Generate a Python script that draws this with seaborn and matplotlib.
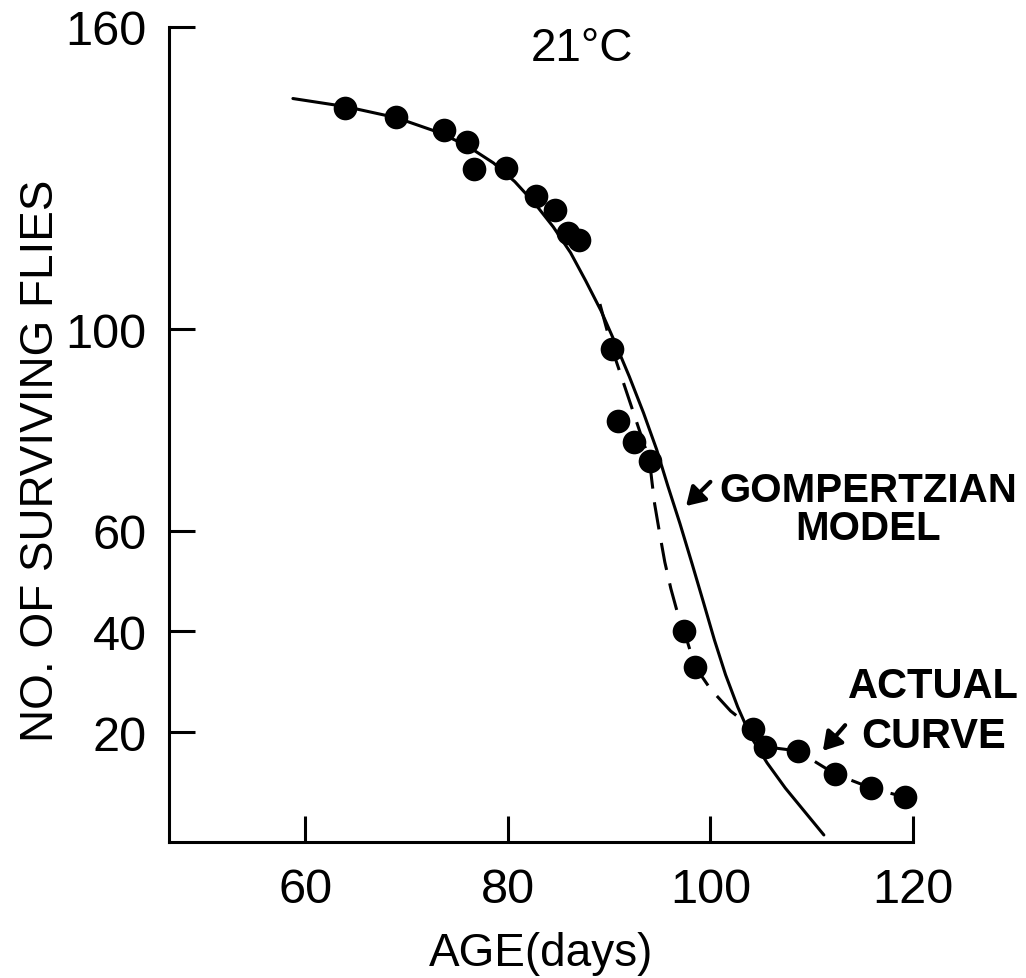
import matplotlib
matplotlib.use("Agg")
import matplotlib.pyplot as plt
import seaborn as sns

obs_age = [63.9, 69.0, 73.7, 76.0, 76.7, 79.8, 82.8, 84.7, 85.9, 87.0, 90.3,
           90.9, 92.5, 94.0, 97.4, 98.5, 104.2, 105.4, 108.6, 112.3, 115.9, 119.2]
obs_flies = [144.0, 142.2, 139.6, 137.2, 131.9, 132.0, 126.5, 123.7, 119.1, 117.8, 96.1,
             81.8, 77.6, 73.9, 40.1, 33.0, 20.7, 17.1, 16.3, 11.7, 8.9, 7.1]

# gompertzian model (solid line)
model_age = [58.8, 64.0, 69.0, 73.3, 76.0, 78.6, 80.7, 82.7, 84.5, 86.2, 87.7, 89.2,
             90.6, 92.0, 93.4, 94.7, 95.8, 97.0, 98.2, 99.3, 100.4, 101.5, 102.7,
             104.0, 105.6, 107.4, 109.4, 111.2]
model_flies = [145.8, 144.2, 142.0, 139.0, 136.4, 133.0, 129.3, 124.9, 120.3, 115.2, 109.6, 103.7,
               97.3, 90.6, 83.4, 76.1, 68.9, 61.4, 53.4, 45.9, 38.3, 31.4, 25.0,
               19.1, 13.9, 8.9, 4.0, -0.4]

# actual curve (dashed line)
actual_age = [89.1, 90.3, 94.0, 94.2, 94.5, 95.0, 95.5, 96.1, 96.7, 97.4, 98.5,
              100.0, 102.0, 104.2, 105.4, 108.6, 112.3, 115.9, 119.2]
actual_flies = [105.0, 96.1, 73.9, 70.3, 65.3, 59.4, 53.8, 48.5, 44.1, 40.1, 33.0,
                28.6, 24.2, 20.7, 17.1, 16.3, 11.7, 8.9, 7.1]

x_ticks = [60, 80, 100, 120]
y_ticks = [20, 40, 60, 100, 160]

sns.set_theme(style="ticks")
plt.rcParams['font.family'] = ['Liberation Sans', 'DejaVu Sans']
plt.rcParams.update({"text.color": "black", "axes.labelcolor": "black",
                     "xtick.color": "black", "ytick.color": "black"})

fig = plt.figure(figsize=(10.26, 9.79), dpi=100)
ax = fig.add_axes([0.1647, 0.1389, 0.7252, 0.8325])

lw = 2.2
sns.lineplot(x=model_age, y=model_flies, sort=False, estimator=None,
             color="black", linewidth=lw, ax=ax)
sns.lineplot(x=actual_age, y=actual_flies, sort=False, estimator=None,
             color="black", linewidth=lw, ax=ax)
ax.lines[-1].set_linestyle((0, (9, 4.5)))
sns.scatterplot(x=obs_age, y=obs_flies, s=290, color="black", edgecolor="black",
                linewidth=0, zorder=3, ax=ax, clip_on=False)

ax.set_xlim(46.57, 120.0)
ax.set_ylim(-1.8, 160)
ax.set_xticks(x_ticks)
ax.set_yticks(y_ticks)
ax.tick_params(direction="in", length=19, width=lw, labelsize=35, pad=16, color="black")
ax.tick_params(axis="x", pad=18)
sns.despine(ax=ax)
for side in ["left", "bottom"]:
    ax.spines[side].set_linewidth(lw)
    ax.spines[side].set_color("black")

ax.set_xlabel("AGE(days)", fontsize=33, labelpad=14)
ax.set_ylabel("NO. OF SURVIVING FLIES", fontsize=33)
ax.yaxis.set_label_coords(-0.143, 0.469)

fig.text(0.567, 0.950, "21°C", fontsize=33, ha="center", va="center")

ax.text(115.6, 64.3, "GOMPERTZIAN\nMODEL", fontsize=29, fontweight="bold",
        ha="center", va="center", multialignment="center", linespacing=1.02)
ax.text(122.0, 24.2, "ACTUAL\nCURVE", fontsize=30, fontweight="bold",
        ha="center", va="center", multialignment="center", linespacing=1.34)

arrow = dict(arrowstyle="-|>,head_length=0.9,head_width=0.55", lw=3, color="black",
             shrinkA=0, shrinkB=0)
ax.annotate("", xy=(97.6, 64.9), xytext=(100.0, 69.7), arrowprops=arrow)
ax.annotate("", xy=(111.1, 16.3), xytext=(113.3, 21.4), arrowprops=arrow)

fig.savefig("out.png", dpi=100, facecolor="white")
